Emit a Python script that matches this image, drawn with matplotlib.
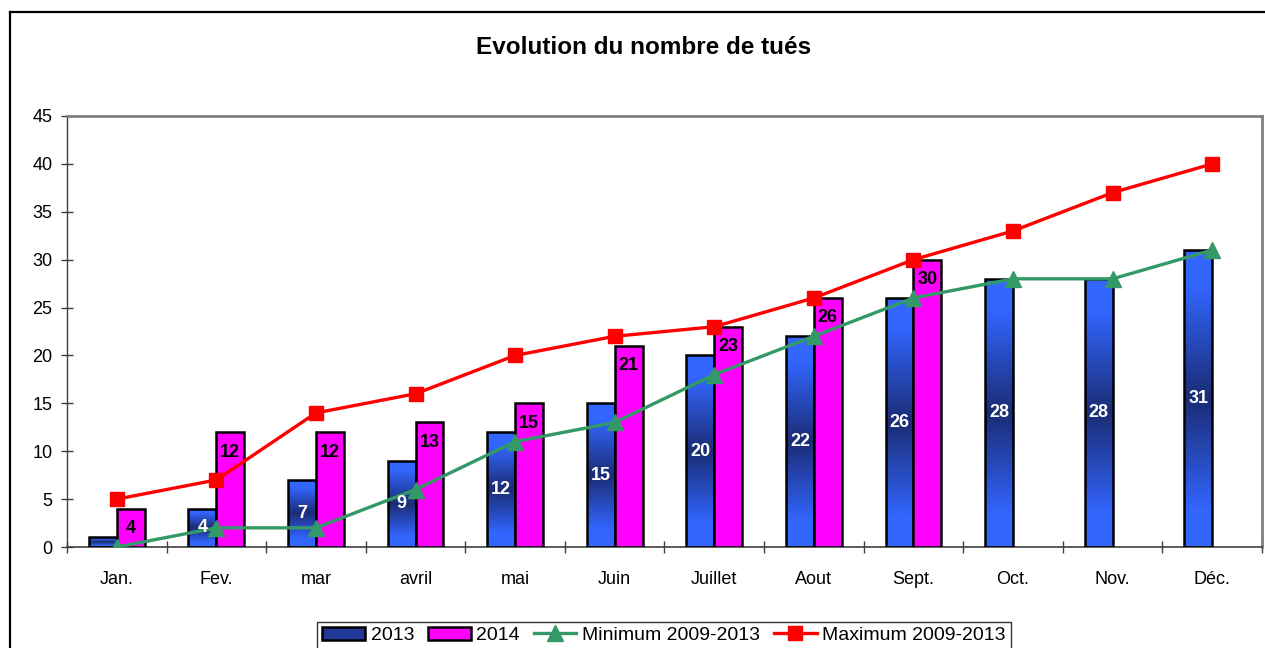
import numpy as np
import matplotlib
matplotlib.use("Agg")
import matplotlib.pyplot as plt
from matplotlib.colors import LinearSegmentedColormap
from matplotlib.lines import Line2D
from matplotlib.patches import Rectangle

categories = ["Jan.", "Fev.", "mar", "avril", "mai", "Juin", "Juillet", "Aout", "Sept.", "Oct.", "Nov.", "Déc."]
v2013 = [1, 4, 7, 9, 12, 15, 20, 22, 26, 28, 28, 31]
v2014 = [4, 12, 12, 13, 15, 21, 23, 26, 30, None, None, None]
vmin = [0, 2, 2, 6, 11, 13, 18, 22, 26, 28, 28, 31]
vmax = [5, 7, 14, 16, 20, 22, 23, 26, 30, 33, 37, 40]
yticks = [0, 5, 10, 15, 20, 25, 30, 35, 40, 45]

plt.rcParams['font.family'] = ['Liberation Sans', 'DejaVu Sans']

W, H = 1265, 648
fig = plt.figure(figsize=(W / 100, H / 100), dpi=100)
ax = fig.add_axes([67 / W, 1 - 547 / H, (1262 - 67) / W, (547 - 116) / H])

x = np.arange(len(categories))
bw = 0.28

cmap = LinearSegmentedColormap.from_list(
    "blue_grad",
    [(0.0, "#3366ff"), (0.12, "#3366ff"), (0.5, "#1a2c74"), (0.88, "#3366ff"), (1.0, "#3366ff")])
grad = np.linspace(0, 1, 256).reshape(-1, 1)

bars13 = ax.bar(x - bw / 2, v2013, width=bw, facecolor="none", edgecolor="black", linewidth=1.8, zorder=3)
for rect in bars13:
    x0 = rect.get_x()
    h = rect.get_height()
    im = ax.imshow(grad, extent=[x0, x0 + rect.get_width(), 0, h], aspect="auto",
                   cmap=cmap, zorder=2, origin="lower", interpolation="bilinear")
    im.set_clip_path(rect)

x14 = [xi for xi, v in zip(x, v2014) if v is not None]
y14 = [v for v in v2014 if v is not None]
ax.bar(np.array(x14) + bw / 2, y14, width=bw, color="#ff00ff", edgecolor="black", linewidth=1.8, zorder=3)

ax.plot(x, vmin, color="#339966", linewidth=2.4, marker="^", markersize=11, zorder=4)
ax.plot(x, vmax, color="#ff0000", linewidth=2.4, marker="s", markersize=9.5, zorder=4)

for xi, v in zip(x, v2013):
    if v > 1:
        ax.text(xi - bw / 2, v / 2, str(v), color="white", fontsize=13, fontweight="bold",
                ha="center", va="center", zorder=6)
for xi, v in zip(x14, y14):
    ax.annotate(str(v), xy=(xi + bw / 2, v), xytext=(0, -20), textcoords="offset pixels",
                color="black", fontsize=13, fontweight="bold", ha="center", va="center", zorder=6)

ax.set_xlim(-0.5, len(categories) - 0.5)
ax.set_ylim(0, 45)
ax.set_yticks(yticks)
ax.tick_params(axis="y", direction="inout", length=9, width=1, color="#404040", labelsize=13, pad=6)
ax.set_xticks(np.arange(-0.5, len(categories), 1.0))
ax.set_xticklabels([])
ax.set_xticks(x, minor=True)
ax.set_xticklabels(categories, minor=True)
ax.tick_params(axis="x", which="major", direction="inout", length=9, width=1, color="#404040")
ax.tick_params(axis="x", which="minor", length=0, labelsize=13, pad=17)

for s in ["top", "right"]:
    ax.spines[s].set_color("#808080")
    ax.spines[s].set_linewidth(2)
ax.spines["left"].set_color("#404040")
ax.spines["bottom"].set_color("#404040")
ax.spines["left"].set_linewidth(1)
ax.spines["bottom"].set_linewidth(1.2)

fig.text(644 / W, 1 - 48 / H, "Evolution du nombre de tués", ha="center", va="center",
         fontsize=17.5, fontweight="bold")

# outer chart border
fig.add_artist(Line2D([10 / W, 10 / W], [0, 1 - 12 / H], transform=fig.transFigure, color="black", linewidth=1.6))
fig.add_artist(Line2D([10 / W, 1], [1 - 12 / H, 1 - 12 / H], transform=fig.transFigure, color="black", linewidth=1.6))

handles = [
    Rectangle((0, 0), 1, 1, facecolor="#23399a", edgecolor="black", linewidth=1.8),
    Rectangle((0, 0), 1, 1, facecolor="#ff00ff", edgecolor="black", linewidth=1.8),
    Line2D([], [], color="#339966", linewidth=2.4, marker="^", markersize=11),
    Line2D([], [], color="#ff0000", linewidth=2.4, marker="s", markersize=9.5),
]
labels = ["2013", "2014", "Minimum 2009-2013", "Maximum 2009-2013"]
leg = fig.legend(handles, labels, loc="upper center", bbox_to_anchor=(664 / W, 1 - 612 / H),
                 ncol=4, fontsize=14, frameon=True, fancybox=False, edgecolor="black",
                 handlelength=2.2, handletextpad=0.3, columnspacing=0.7, borderpad=0.25)
leg.get_frame().set_linewidth(1)

fig.savefig("out.png", dpi=100)
